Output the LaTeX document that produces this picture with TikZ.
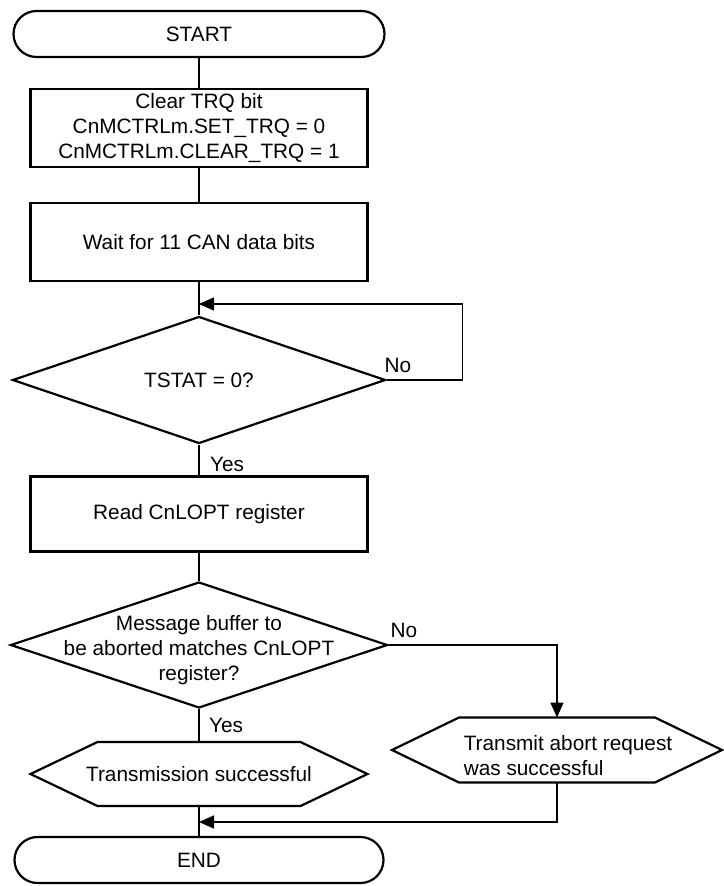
\documentclass[tikz,border=0pt]{standalone}
\usepackage{fontspec}
\setmainfont{Liberation Sans}
\usetikzlibrary{shapes.geometric, shapes.misc}
\usetikzlibrary{arrows.meta}

\begin{document}
\begin{tikzpicture}[x=1pt, y=-1pt, font=\fontsize{20.8}{25}\selectfont,
  term/.style={rounded rectangle, draw, line width=2.2pt, minimum width=371pt, minimum height=46pt, inner sep=0pt},
  proc/.style={rectangle, draw, line width=2.4pt, minimum width=337pt, minimum height=78pt, align=center, inner sep=0pt},
  decide/.style={diamond, draw, line width=2.2pt, minimum width=373pt, minimum height=127pt, aspect=3, inner sep=0pt, align=center},
  hexa/.style={rectangle, minimum width=#1, minimum height=64pt, inner sep=0pt, outer sep=0pt, align=left},
  conn/.style={line width=1.6pt},
  arr/.style={conn, -{Triangle[length=15pt, width=13pt]}},
  yesno/.style={inner sep=0pt}]
\useasboundingbox (0,0) rectangle (723,886);
\def\cx{199}

\node[term] (start) at (\cx,34) {START};
\node[proc] (clr) at (\cx,128) {Clear TRQ bit\\CnMCTRLm.SET\_TRQ = 0\\CnMCTRLm.CLEAR\_TRQ = 1};
\node[proc] (wait) at (\cx,242) {Wait for 11 CAN data bits};
\node[decide] (tstat) at (\cx,380) {TSTAT = 0?};
\node[proc, minimum height=75pt] (read) at (\cx,514) {Read CnLOPT register};
\node[decide, minimum width=377pt, minimum height=126pt,
  label={[align=center, yshift=-5pt]center:Message buffer to\\be aborted matches CnLOPT\\register?}] (match) at (\cx,645) {};
\node[hexa=337pt] (succ) at (\cx,774) {Transmission successful};
\node[hexa=330pt, minimum height=65pt] (abrt) at (557,750)
  {\rule{0pt}{26pt}\hspace*{22pt}Transmit abort request\\\hspace*{22pt}was successful};
\node[term, minimum width=369pt] (stop) at (\cx,860) {END};

% hexagon outlines
\foreach \n in {succ, abrt}
  \draw[line width=2.2pt] (\n.west) -- ([xshift=67pt]\n.north west) -- ([xshift=-67pt]\n.north east)
    -- (\n.east) -- ([xshift=-67pt]\n.south east) -- ([xshift=67pt]\n.south west) -- cycle;

\coordinate (loopin) at (\cx,304);
\coordinate (merge) at (\cx,822);

\draw[conn] (start) -- (clr);
\draw[conn] (clr) -- (wait);
\draw[conn] (wait) -- (tstat);
\draw[arr] (tstat.east) -- ++(76,0) |- (loopin);
\draw[conn] (tstat) -- (read);
\draw[conn] (read) -- (match);
\draw[arr] (match.east) -| (abrt.north);
\draw[conn] (match) -- (succ);
\draw[conn] (succ) -- (stop);
\draw[arr] (abrt.south) |- (merge);

\node[yesno] (no1) at (398,365) {No};
\node[yesno] (yes1) at (227,464) {Yes};
\node[yesno] (no2) at (404,630) {No};
\node[yesno] (yes2) at (226,725) {Yes};
\end{tikzpicture}
\end{document}
